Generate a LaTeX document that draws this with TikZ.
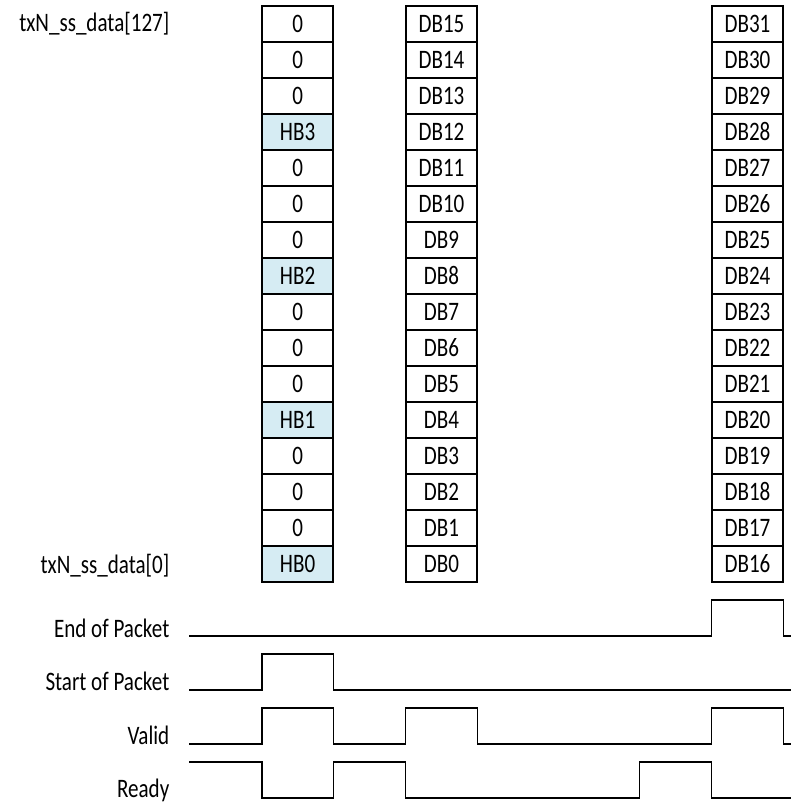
\documentclass[tikz,border=0pt]{standalone}
\usepackage{fontspec}
\setmainfont{Carlito}[FakeStretch=0.79]
\definecolor{hbblue}{RGB}{214,236,243}
\begin{document}
\begin{tikzpicture}[x=0.75pt,y=-0.75pt,line width=1.05pt,
  txt/.style={font=\fontsize{20}{22}\selectfont},
  cell/.style={txt,draw,minimum width=53.25pt,minimum height=27pt,inner sep=0pt,text height=12.5pt,text depth=0pt},
  hb/.style={cell,fill=hbblue},
  lbl/.style={txt,anchor=base east,inner sep=0pt},
  wave/.style={line width=1.05pt,line join=miter}]
\useasboundingbox (0,0) rectangle (791,802);
% column A
\foreach \t/\s [count=\i from 0] in {0/cell,0/cell,0/cell,HB3/hb,0/cell,0/cell,0/cell,HB2/hb,0/cell,0/cell,0/cell,HB1/hb,0/cell,0/cell,0/cell,HB0/hb}
  \node[\s] (a\i) at (297.6,{24+36*\i}) {\t};
% column B and C
\foreach \i in {0,...,15}{
  \pgfmathtruncatemacro\n{15-\i}
  \pgfmathtruncatemacro\m{31-\i}
  \node[cell] (b\i) at (441.5,{24+36*\i}) {DB\n};
  \node[cell] (c\i) at (747.5,{24+36*\i}) {DB\m};
}
% labels
\node[lbl] (top) at (170,32) {txN\_ss\_data[127]};
\node[lbl] (bot) at (170,573) {txN\_ss\_data[0]};
\node[lbl] (eop) at (170,637) {End of Packet};
\node[lbl] (sop) at (170,690) {Start of Packet};
\node[lbl] (valid) at (170,744) {Valid};
\node[lbl] (ready) at (170,797) {Ready};
% waveforms
\draw[wave] (189,636) -- (711.7,636) -- (711.7,600) -- (783.3,600) -- (783.3,636) -- (795,636);
\draw[wave] (189,690) -- (261.8,690) -- (261.8,654) -- (333.3,654) -- (333.3,690) -- (795,690);
\draw[wave] (189,744) -- (261.8,744) -- (261.8,708) -- (333.3,708) -- (333.3,744) -- (405.7,744) -- (405.7,708) -- (477.3,708) -- (477.3,744) -- (711.7,744) -- (711.7,708) -- (783.3,708) -- (783.3,744) -- (795,744);
\draw[wave] (189,762) -- (261.8,762) -- (261.8,798) -- (333.3,798) -- (333.3,762) -- (405.7,762) -- (405.7,798) -- (639.3,798) -- (639.3,762) -- (711.7,762) -- (711.7,798) -- (795,798);
\end{tikzpicture}
\end{document}
